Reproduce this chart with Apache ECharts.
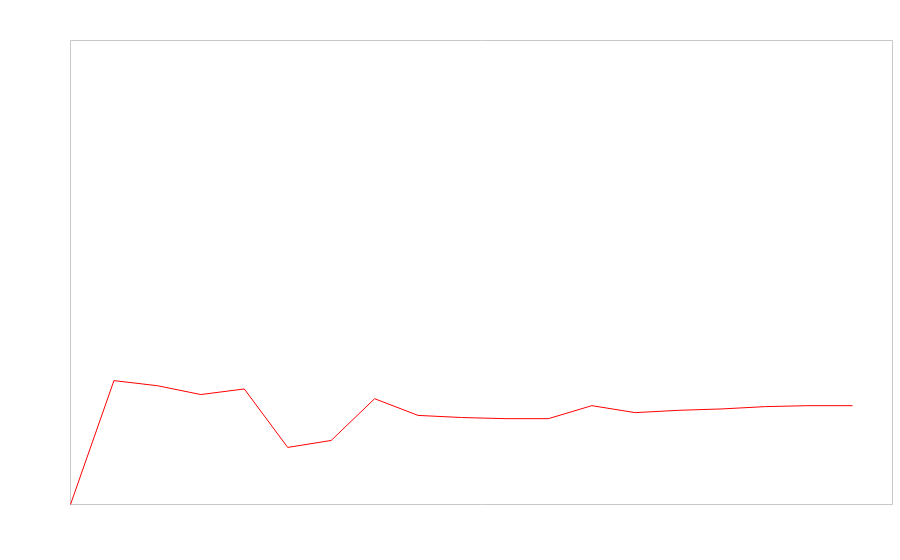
<!DOCTYPE html>
<html>
<head>
<meta charset="utf-8">
<script src="https://cdn.jsdelivr.net/npm/echarts@6/dist/echarts.min.js"></script>
<style>
  html, body { margin: 0; padding: 0; background: #fff; }
  #main { width: 900px; height: 560px; }
</style>
</head>
<body>
<div id="main"></div>
<script>
// data
const xValues = [0, 1, 2, 3, 4, 5, 6, 7, 8, 9, 10, 11, 12, 13, 14, 15, 16, 17, 18];
const yValues = [0, 26.7, 25.6, 23.7, 24.9, 12.3, 13.8, 22.8, 19.2, 18.75, 18.5, 18.5,
                 21.3, 19.8, 20.3, 20.6, 21.1, 21.3, 21.3];

const chart = echarts.init(document.getElementById('main'));
const option = {
  animation: false,
  grid: {
    left: 70.5, right: 7.5, top: 40.5, bottom: 55.5,
    show: true,
    borderColor: '#c8c8c8',
    borderWidth: 1,
    backgroundColor: 'transparent'
  },
  xAxis: {
    type: 'value',
    min: 0,
    max: 18.92,
    show: false
  },
  yAxis: {
    type: 'value',
    min: 0,
    max: 100,
    show: false
  },
  series: [
    {
      type: 'line',
      data: xValues.map((x, i) => [x, yValues[i]]),
      showSymbol: false,
      symbol: 'none',
      lineStyle: { color: '#ff0000', width: 1 }
    }
  ]
};
chart.setOption(option);
</script>
</body>
</html>
